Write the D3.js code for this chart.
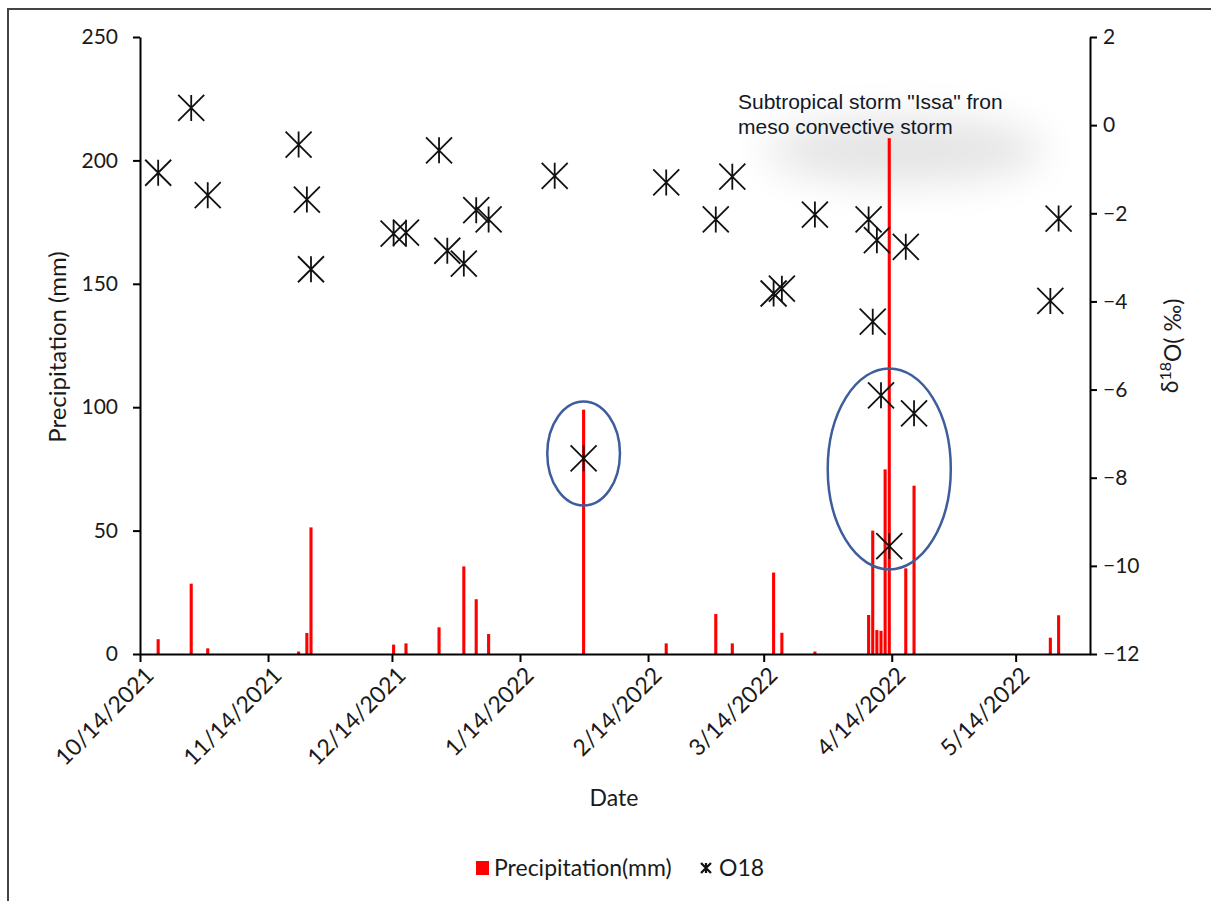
<!DOCTYPE html>
<html>
<head>
<meta charset="utf-8">
<script src="https://cdn.jsdelivr.net/npm/d3@7"></script>
<style>
  body { margin: 0; background: #fff; }
  svg { display: block; }
  .tick text { font-family: Lato, "Open Sans", sans-serif; fill: #1a1a1a; }
  .domain, .tick line { stroke: #000; stroke-width: 2; }
</style>
</head>
<body>
<svg id="canvas" width="1211" height="901"></svg>
<script>
// ************************************************************************************** //
// Data

var precip_dates = ['2021-10-18','2021-10-26','2021-10-30','2021-11-21','2021-11-23','2021-11-24',
  '2021-12-14','2021-12-17','2021-12-25','2021-12-31','2022-01-03','2022-01-06','2022-01-29',
  '2022-02-18','2022-03-02','2022-03-06','2022-03-16','2022-03-18','2022-03-26','2022-04-08',
  '2022-04-09','2022-04-10','2022-04-11','2022-04-12','2022-04-13','2022-04-17','2022-04-19',
  '2022-05-22','2022-05-24'];
var precip_values = [6, 28.5, 2.3, 1, 8.5, 51.3, 3.8, 4.3, 10.8, 35.5, 22.2, 8.1, 99,
  4.3, 16.2, 4.3, 33, 8.6, 1, 15.8, 50, 9.7, 9.4, 74.8, 209, 34.7, 68.2, 6.6, 15.7];

var o18_dates = ['2021-10-18','2021-10-26','2021-10-30','2021-11-21','2021-11-23','2021-11-24',
  '2021-12-14','2021-12-17','2021-12-25','2021-12-27','2021-12-31','2022-01-03','2022-01-06',
  '2022-01-22','2022-01-29','2022-02-18','2022-03-02','2022-03-06','2022-03-16','2022-03-18',
  '2022-03-26','2022-04-08','2022-04-09','2022-04-10','2022-04-11','2022-04-13','2022-04-17',
  '2022-04-19','2022-05-22','2022-05-24'];
var o18_values = [-1.08, 0.39, -1.59, -0.44, -1.69, -3.27, -2.46, -2.44, -0.57, -2.85, -3.14,
  -1.93, -2.14, -1.15, -7.56, -1.30, -2.14, -1.17, -3.82, -3.71, -2.03, -2.14, -4.46, -2.61,
  -6.13, -9.55, -2.76, -6.54, -3.99, -2.12];

var x_tick_labels = ['10/14/2021','11/14/2021','12/14/2021','1/14/2022','2/14/2022','3/14/2022','4/14/2022','5/14/2022'];
var left_ticks = [0, 50, 100, 150, 200, 250];
var right_ticks = [-12, -10, -8, -6, -4, -2, 0, 2];

// circled events: centre date, centre value (right axis), half width in days, half height in permil
var circle_dates = ['2022-01-29', '2022-04-13'];
var circle_values = [-7.45, -7.8];
var circle_rx_days = [8.8, 14.9];
var circle_ry_permil = [1.18, 2.28];

var annotation_lines = ['Subtropical storm "Issa" fron', 'meso convective storm'];

// ************************************************************************************** //
// Setup

var chart = {};
var parse = d3.timeParse('%Y-%m-%d');
var tick_parse = d3.timeParse('%m/%d/%Y');
var font = 'Lato, "Open Sans", sans-serif';

chart.svg = d3.select('#canvas');
chart.left = 140, chart.right = 1090, chart.top = 37, chart.bottom = 654;

chart.x = d3.scaleTime()
  .domain([parse('2021-10-14'), parse('2022-06-01')])
  .range([chart.left, chart.right]);
chart.yLeft = d3.scaleLinear().domain([0, 250]).range([chart.bottom, chart.top]);
chart.yRight = d3.scaleLinear().domain([-12, 2]).range([chart.bottom, chart.top]);

var dayPx = chart.x(parse('2021-10-15')) - chart.x(parse('2021-10-14'));
var barW = 3.1;
function xc(d) { return chart.x(d) + dayPx * 0.4; }

// outer frame (top + left edge of the cropped figure)
chart.svg.append('path')
  .attr('d', 'M8,901 L8,9 L1211,9')
  .attr('fill', 'none').attr('stroke', '#444').attr('stroke-width', 2);

// soft shadow behind the note
var defs = chart.svg.append('defs');
defs.append('filter').attr('id', 'blur').attr('x', '-50%').attr('y', '-150%').attr('width', '200%').attr('height', '400%')
  .append('feGaussianBlur').attr('stdDeviation', 20);
chart.svg.append('ellipse')
  .attr('cx', 905).attr('cy', 150).attr('rx', 140).attr('ry', 34)
  .attr('fill', '#000').attr('opacity', 0.1).attr('filter', 'url(#blur)');

// ************************************************************************************** //
// Bars

chart.svg.append('g').selectAll('rect')
  .data(precip_dates.map((d, i) => ({ date: parse(d), v: precip_values[i] })))
  .join('rect')
  .attr('x', d => xc(d.date) - barW / 2)
  .attr('y', d => chart.yLeft(d.v))
  .attr('width', barW)
  .attr('height', d => chart.yLeft(0) - chart.yLeft(d.v))
  .attr('fill', '#ff0000');

// ************************************************************************************** //
// Axes

chart.xAxis = chart.svg.append('g').attr('transform', 'translate(0,' + chart.bottom + ')')
  .call(d3.axisBottom(chart.x).tickValues(x_tick_labels.map(tick_parse)).tickSize(8).tickSizeOuter(0).tickFormat(''));
chart.xAxis.selectAll('.tick').append('text')
  .attr('transform', 'translate(9,17) rotate(-45)')
  .attr('text-anchor', 'end')
  .attr('dy', '0.35em')
  .style('font-size', '23px')
  .text((d, i) => x_tick_labels[i]);

chart.yAxisL = chart.svg.append('g').attr('transform', 'translate(' + chart.left + ',0)')
  .call(d3.axisLeft(chart.yLeft).tickValues(left_ticks).tickSize(7).tickSizeOuter(0).tickPadding(15));
chart.yAxisL.selectAll('.tick text').style('font-size', '21px');

chart.yAxisR = chart.svg.append('g').attr('transform', 'translate(' + chart.right + ',0)')
  .call(d3.axisRight(chart.yRight).tickValues(right_ticks).tickSize(7).tickSizeOuter(0).tickPadding(6));
chart.yAxisR.selectAll('.tick text').style('font-size', '21px');

// titles
chart.svg.append('text')
  .attr('transform', 'translate(68,347) rotate(-90)')
  .attr('text-anchor', 'middle').attr('dy', '-0.1em')
  .style('font-family', font).style('font-size', '24px').attr('fill', '#1a1a1a')
  .text('Precipitation (mm)');

var rt = chart.svg.append('text')
  .attr('transform', 'translate(1170,346) rotate(-90)')
  .attr('text-anchor', 'middle').attr('dy', '0.35em')
  .style('font-family', font).style('font-size', '23px').attr('fill', '#1a1a1a');
rt.append('tspan').text('δ');
rt.append('tspan').attr('dy', '-0.45em').style('font-size', '16px').text('18');
rt.append('tspan').attr('dy', '0.45em').text('O( ‰)');

chart.svg.append('text')
  .attr('x', 614).attr('y', 806).attr('text-anchor', 'middle')
  .style('font-family', font).style('font-size', '23px').attr('fill', '#1a1a1a')
  .text('Date');

// ************************************************************************************** //
// O18 star markers

function starPath(s) {
  return 'M' + (-s) + ',' + (-s) + 'L' + s + ',' + s +
         'M' + (-s) + ',' + s + 'L' + s + ',' + (-s) +
         'M0,' + (-s) + 'L0,' + s;
}

chart.svg.append('g').selectAll('path')
  .data(o18_dates.map((d, i) => ({ date: parse(d), v: o18_values[i] })))
  .join('path')
  .attr('transform', d => 'translate(' + xc(d.date) + ',' + chart.yRight(d.v) + ')')
  .attr('d', starPath(13))
  .attr('fill', 'none').attr('stroke', '#111').attr('stroke-width', 1.8);

// ************************************************************************************** //
// Circled events + note

chart.svg.append('g').selectAll('ellipse')
  .data(circle_dates.map((d, i) => ({ date: parse(d), v: circle_values[i], rx: circle_rx_days[i], ry: circle_ry_permil[i] })))
  .join('ellipse')
  .attr('cx', d => xc(d.date))
  .attr('cy', d => chart.yRight(d.v))
  .attr('rx', d => d.rx * dayPx)
  .attr('ry', d => chart.yRight(0) - chart.yRight(d.ry))
  .attr('fill', 'none').attr('stroke', '#3d5d9c').attr('stroke-width', 2.5);

chart.svg.append('g').selectAll('text')
  .data(annotation_lines)
  .join('text')
  .attr('x', 738).attr('y', (d, i) => 109 + i * 25)
  .style('font-family', '"Liberation Sans", Arial, sans-serif').style('font-size', '21px')
  .attr('fill', '#111827')
  .text(d => d);

// ************************************************************************************** //
// Legend

var legend = chart.svg.append('g').attr('transform', 'translate(0,868)');
legend.append('rect').attr('x', 476).attr('y', -7).attr('width', 13).attr('height', 14).attr('fill', '#ff0000');
legend.append('text').attr('x', 494).attr('dy', '0.35em')
  .style('font-family', font).style('font-size', '23px').attr('fill', '#1a1a1a')
  .text('Precipitation(mm)');
legend.append('path').attr('transform', 'translate(706,0)').attr('d', starPath(5))
  .attr('fill', 'none').attr('stroke', '#111').attr('stroke-width', 2.2);
legend.append('text').attr('x', 719).attr('dy', '0.35em')
  .style('font-family', font).style('font-size', '23px').attr('fill', '#1a1a1a')
  .text('O18');
</script>
</body>
</html>
